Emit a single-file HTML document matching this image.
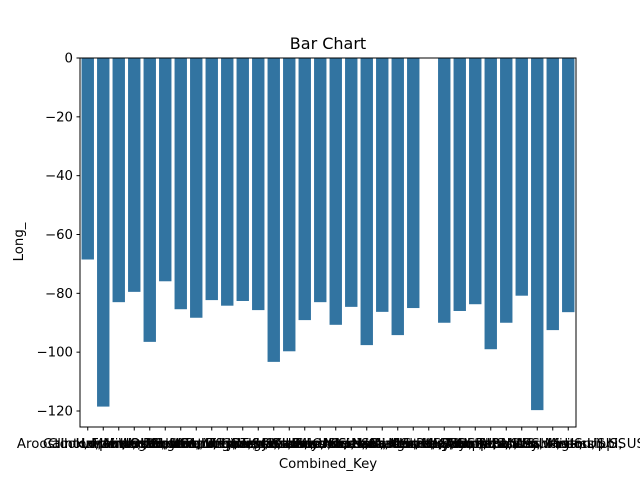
<!DOCTYPE html>
<html><head><meta charset="utf-8"><style>
body{margin:0;background:#fff}
svg{display:block;font-family:"DejaVu Sans","Liberation Sans",sans-serif}
</style></head><body>
<svg id="chart" width="640" height="480" xmlns="http://www.w3.org/2000/svg">
<text x="328" y="49" font-size="16" text-anchor="middle">Bar Chart</text>
<g id="bars"></g><g id="yaxis"></g><g id="xaxis"></g>
<rect x="80" y="58" width="496" height="369" fill="none" stroke="#000" stroke-width="1"/>
<text x="328" y="468" font-size="13.3" text-anchor="middle">Combined_Key</text>
<text transform="translate(23,242) rotate(-90)" font-size="13.3" text-anchor="middle">Long_</text>
</svg>
<script>
const categories=["Aroostook, Maine, US","Calhoun, Iowa, US","Clinton, Michigan, US","Lorain, Ohio, US","Harper, Oklahoma, US","Franklin, New York, US","Anderson, Kentucky, US","Washington, Illinois, US","Bedford, Virginia, US","Greene, Tennessee, US","Polk, Georgia, US","Sumner, Tennessee, US","Larimer, Colorado, US","Rush, Kansas, US","Webster, Missouri, US","Knox, Ohio, US","Jackson, Arkansas, US","Floyd, Indiana, US","Pawnee, Nebraska, US","Lowndes, Alabama, US","Cass, Minnesota, US","Hart, Kentucky, US","Unassigned, Guam, US","Carroll, Mississippi, US","Monroe, Alabama, US","Perry, Indiana, US","Ellis, Texas, US","Lafayette, Missouri, US","Centre, Pennsylvania, US","Cowlitz, Washington, US","Atchison, Missouri, US","Benton, Mississippi, US"];
const values=[-68.5,-118.5,-83,-79.5,-96.5,-75.9,-85.4,-88.3,-82.3,-84.2,-82.6,-85.7,-103.3,-99.7,-89.1,-83,-90.7,-84.6,-97.6,-86.3,-94.2,-85,0,-90,-86,-83.7,-99,-90,-80.8,-119.7,-92.5,-86.4];
const yTicks=[0,-20,-40,-60,-80,-100,-120];
const yTickLabels=["0","\u221220","\u221240","\u221260","\u221280","\u2212100","\u2212120"];
const NS="http://www.w3.org/2000/svg";
const L=80,W=496,T=58;
const y=v=>58+(0-v)*(353/120);
const step=W/categories.length;
const x=i=>L+step*(i+0.5);
const bars=document.getElementById('bars'),ya=document.getElementById('yaxis'),xa=document.getElementById('xaxis');
function mk(tag,attrs,parent){const e=document.createElementNS(NS,tag);for(const k in attrs)e.setAttribute(k,attrs[k]);parent.appendChild(e);return e;}
values.forEach((v,i)=>{
  const bw=step*0.8;
  const r=mk('rect',{x:x(i)-bw/2,y:Math.min(y(0),y(v)),width:bw,height:Math.abs(y(v)-y(0)),fill:'#3274a1'},bars);
  
  
});
yTicks.forEach((t,i)=>{
  const l=mk('line',{x1:L-3.5,x2:L,y1:y(t),y2:y(t),stroke:'#000'},ya);
  
  
  const tx=mk('text',{x:L-7,y:y(t)+4.5,'font-size':13.3,'text-anchor':'end'},ya);
  tx.textContent=yTickLabels[i];
  
  
});
categories.forEach((c,i)=>{
  const l=mk('line',{x1:x(i),x2:x(i),y1:427,y2:430.5,stroke:'#000'},xa);
  
  
  const tx=mk('text',{x:x(i),y:448,'font-size':13.3,'text-anchor':'middle'},xa);
  tx.textContent=c;
  
  
});
</script>
</body></html>
